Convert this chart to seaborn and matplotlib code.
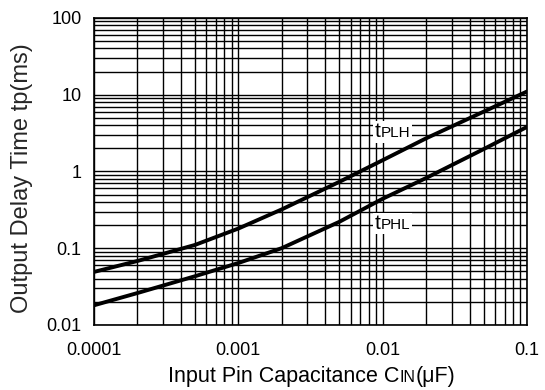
import matplotlib
matplotlib.use("Agg")
import matplotlib.pyplot as plt
from matplotlib.offsetbox import TextArea, HPacker, AnnotationBbox
from matplotlib.ticker import LogLocator, FixedLocator, NullFormatter
import pandas as pd
import seaborn as sns

# valores
capacitance = [0.0001, 0.0002, 0.0005, 0.001, 0.002, 0.005, 0.01, 0.02, 0.05, 0.1]
t_plh = [0.049, 0.068, 0.11, 0.18, 0.32, 0.73, 1.4, 2.7, 6.0, 11.0]
t_phl = [0.018, 0.026, 0.043, 0.064, 0.10, 0.22, 0.44, 0.82, 1.95, 3.8]

x_ticks = [0.0001, 0.001, 0.01, 0.1]
x_labels = ["0.0001", "0.001", "0.01", "0.1"]
y_ticks = [0.01, 0.1, 1, 10, 100]
y_labels = ["0.01", "0.1", "1", "10", "100"]

sns.set_style("white")
plt.rcParams["font.family"] = ["Liberation Sans", "DejaVu Sans"]

df = pd.DataFrame({
    "cap": capacitance * 2,
    "tp": t_plh + t_phl,
    "serie": ["tPLH"] * len(t_plh) + ["tPHL"] * len(t_phl),
})

fig = plt.figure(figsize=(5.45, 3.9), dpi=100)
ax = fig.add_axes([0.1725, 0.167, 0.7945, 0.787])

sns.lineplot(data=df, x="cap", y="tp", units="serie", estimator=None,
             color="black", linewidth=2.8, ax=ax, legend=False)

ax.set_xscale("log")
ax.set_yscale("log")
ax.set_xlim(0.0001, 0.1)
ax.set_ylim(0.01, 100)

ax.xaxis.set_major_locator(FixedLocator(x_ticks))
ax.set_xticklabels(x_labels)
ax.yaxis.set_major_locator(FixedLocator(y_ticks))
ax.set_yticklabels(y_labels)
ax.xaxis.set_minor_locator(LogLocator(base=10, subs=range(2, 10)))
ax.yaxis.set_minor_locator(LogLocator(base=10, subs=range(2, 10)))
ax.xaxis.set_minor_formatter(NullFormatter())
ax.yaxis.set_minor_formatter(NullFormatter())

ax.grid(True, which="both", color="black", linewidth=1.0)
ax.tick_params(which="both", length=0, labelsize=13, colors="black")
ax.tick_params(axis="x", pad=12)
ax.tick_params(axis="y", pad=9)
for s in ax.spines.values():
    s.set_color("black")
    s.set_linewidth(1.2)

ax.set_xlabel("")
ax.set_ylabel("Output Delay Time tp(ms)", fontsize=17, va="center")
ax.yaxis.set_label_coords(-0.166, 0.477)


def etiqueta(partes):
    # texto con partes de distinto tamaño alineadas en la base
    hijos = [TextArea(t, textprops=dict(fontsize=fs, color="black",
                                         family=["Liberation Sans", "DejaVu Sans"]))
             for t, fs in partes]
    return HPacker(children=hijos, align="baseline", pad=0, sep=0)


# etiquetas de las curvas con fondo blanco
for txt, yv in [("PLH", 3.3), ("PHL", 0.21)]:
    ab = AnnotationBbox(etiqueta([("t", 15), (txt, 11)]), (0.0088, yv),
                        xycoords="data", box_alignment=(0, 0.5), frameon=True,
                        pad=0.1, bboxprops=dict(facecolor="white", edgecolor="none"))
    ax.add_artist(ab)

# titulo del eje x con subindice
xl = AnnotationBbox(etiqueta([("Input Pin Capacitance C", 15.5), ("IN", 11.5), ("(μF)", 15.5)]),
                    (0.572, 0.035), xycoords="figure fraction", box_alignment=(0.5, 0.5),
                    frameon=False)
fig.add_artist(xl)

fig.savefig("out.png", dpi=100)
